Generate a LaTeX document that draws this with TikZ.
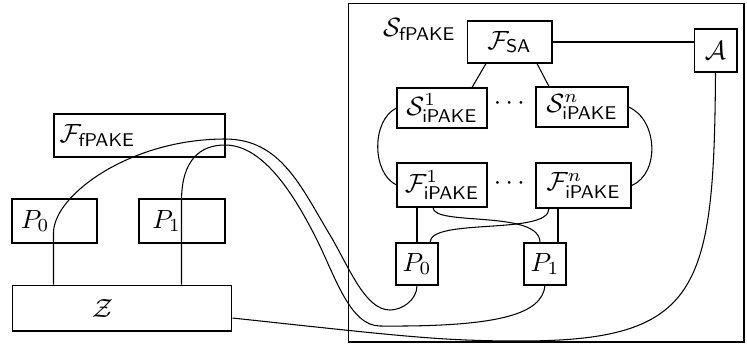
\documentclass[tikz,border=0pt]{standalone}
\usepackage{amsmath,amssymb}
\usepackage{tikz}
\usetikzlibrary{calc}

\begin{document}
\begin{tikzpicture}[x=0.01333cm, y=-0.01333cm,
    box/.style={draw, rectangle, inner sep=0pt, align=center}]
\useasboundingbox (0,0) rectangle (747,345);

% simulator
\node[box, minimum width=5.28cm, minimum height=4.52cm,
    label={[anchor=north west, xshift=10pt, yshift=-2.5pt]north west:$\mathcal{S}_{\mathsf{fPAKE}}$}]
    (sim) at (546,172.5) {};
\node[box, minimum width=1.133cm, minimum height=0.56cm] (Fsa) at (509.5,42) {$\mathcal{F}_{\mathsf{SA}}$};
\node[box, minimum width=0.573cm, minimum height=0.573cm] (A) at (715.5,50.5) {$\mathcal{A}$};
\node[box, minimum width=1.2cm, minimum height=0.533cm] (S1) at (442,108) {$\mathcal{S}^1_{\mathsf{iPAKE}}$};
\node[box, minimum width=1.227cm, minimum height=0.533cm] (Sn) at (582,107) {$\mathcal{S}^n_{\mathsf{iPAKE}}$};
\node[box, minimum width=1.2cm, minimum height=0.587cm] (F1) at (442,185) {$\mathcal{F}^1_{\mathsf{iPAKE}}$};
\node[box, minimum width=1.267cm, minimum height=0.6cm] (Fn) at (583.5,185.5) {$\mathcal{F}^n_{\mathsf{iPAKE}}$};
\node[inner sep=0pt] (sdots) at ($(S1.east)!0.5!(Sn.west)+(0,-4)$) {$\cdots$};
\node[inner sep=0pt] (fdots) at ($(F1.east)!0.5!(Fn.west)+(0,-2)$) {$\cdots$};
\node[box, minimum width=0.56cm, minimum height=0.56cm] (P0i) at (417,264) {$P_0$};
\node[box, minimum width=0.56cm, minimum height=0.56cm] (P1i) at (545,264) {$P_1$};

% real world
\node[box, minimum width=2.28cm, minimum height=0.573cm,
    label={[anchor=west, xshift=-1.2pt]west:$\mathcal{F}_{\mathsf{fPAKE}}$}] (Ffpake) at (139.5,135.5) {};
\node[box, minimum width=1.133cm, minimum height=0.587cm,
    label={[anchor=west]west:$P_0$}] (P0o) at (54.5,221) {};
\node[box, minimum width=1.147cm, minimum height=0.587cm,
    label={[anchor=west, xshift=1.7pt]west:$P_1$}] (P1o) at (182,221) {};
\node[box, minimum width=2.933cm, minimum height=0.613cm,
    label={[anchor=west, xshift=27pt]west:$\mathcal{Z}$}] (Z) at (122,308) {};

% F_SA links
\draw (Fsa.east) -- (Fsa.east -| A.west);
\draw ($(Fsa.south)+(-23.5,0)$) -- ($(S1.north)+(30,0)$);
\draw ($(Fsa.south)+(27.5,0)$) -- ($(Sn.north)+(-33,0)$);

% S to F
\draw (S1.west) .. controls +(-25,12) and +(-25,-12) .. (F1.west);
\draw (Sn.east) .. controls +(29,12) and +(29,-12) .. (Fn.east);

% F to inner parties
\draw (P0i.north |- F1.south) -- (P0i.north);
\path ($(P1i.north)+(13,0)$) coordinate (q1);
\draw (q1 |- Fn.south) -- (q1);
\draw ($(F1.south)+(-9,0)$) .. controls +(0,19) and +(0,-33) .. ($(P1i.north)+(-5,0)$);
\draw ($(Fn.south)+(-34.5,0)$) .. controls +(0,27) and +(0,-25) .. ($(P0i.north)+(13,0)$);

% environment wires
\draw ($(Z.north west)+(42,0)$) -- ++(0,-52)
    .. controls (54,195) and (130,139) .. (225,139)
    .. controls (281,139) and (301,187) .. (330,235)
    .. controls (349,267) and (365,310) .. (390,310)
    .. controls (402,310) and (417,300) .. (P0i.south);
\draw ($(Z.north west)+(170,0)$) -- ++(0,-85)
    .. controls (182,160) and (200,145) .. (225,145)
    .. controls (260,145) and (290,186) .. (317,240)
    .. controls (335,276) and (350,326) .. (380,326)
    .. controls (500,327) and (542,314) .. (P1i.south);
\draw ($(Z.east)+(0,10)$) .. controls (400,336) and (440,341) .. (520,341)
    .. controls (700,341) and (714,290) .. (A.south);
\end{tikzpicture}
\end{document}
